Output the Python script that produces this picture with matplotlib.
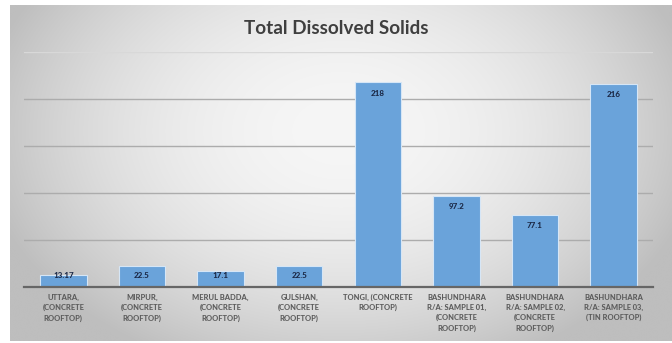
import numpy as np
import matplotlib
matplotlib.use("Agg")
import matplotlib.pyplot as plt

# Total dissolved solids per sampling site
categories = [
    "UTTARA,\n(CONCRETE\nROOFTOP)",
    "MIRPUR,\n(CONCRETE\nROOFTOP)",
    "MERUL BADDA,\n(CONCRETE\nROOFTOP)",
    "GULSHAN,\n(CONCRETE\nROOFTOP)",
    "TONGI, (CONCRETE\nROOFTOP)",
    "BASHUNDHARA\nR/A: SAMPLE 01,\n(CONCRETE\nROOFTOP)",
    "BASHUNDHARA\nR/A: SAMPLE 02,\n(CONCRETE\nROOFTOP)",
    "BASHUNDHARA\nR/A: SAMPLE 03,\n(TIN ROOFTOP)",
]
tds_values = [13.17, 22.5, 17.1, 22.5, 218, 97.2, 77.1, 216]
value_labels = ["13.17", "22.5", "17.1", "22.5", "218", "97.2", "77.1", "216"]
y_ticks = [0, 50, 100, 150, 200, 250]

W, H = 672, 343
fig = plt.figure(figsize=(W / 100, H / 100), dpi=100)
fig.patch.set_facecolor("white")

# soft grey radial backdrop for the chart panel
bg = fig.add_axes([0, 0, 1, 1], zorder=-5)
bg.set_xlim(0, W)
bg.set_ylim(H, 0)
bg.axis("off")
px0, px1, py0, py1 = 10, 672, 5, 341
xs = np.linspace(-1, 1, 400)
ys = np.linspace(-1, 1, 220)
gx, gy = np.meshgrid(xs, ys)
gy_shift = gy + 0.25
val = 246 - 46 * (gx ** 2) - 24 * (gy_shift ** 2)
val = np.clip(val, 190, 250) / 255.0
img = np.dstack([val, val, val])
bg.imshow(img, extent=(px0, px1, py1, py0), aspect="auto", interpolation="bicubic")

ax = fig.add_axes([24 / W, 56 / H, (653 - 24) / W, (291 - 56) / H])
ax.patch.set_alpha(0)
x = np.arange(len(categories))
bars = ax.bar(x, tds_values, width=0.59, color="#6aa3da",
              edgecolor="#d6e6f6", linewidth=0.8, zorder=3)

ax.set_xlim(-0.5, len(categories) - 0.5)
ax.set_ylim(0, 250)
ax.set_yticks(y_ticks)
ax.set_yticklabels([])
ax.tick_params(axis="both", length=0)
for t in y_ticks[1:]:
    ax.axhline(t, color="#d8d8d8" if t == 250 else "#acacac", lw=1.0, zorder=1)
for s in ["top", "right", "left"]:
    ax.spines[s].set_visible(False)
ax.spines["bottom"].set_color("#666666")
ax.spines["bottom"].set_linewidth(1.6)
ax.spines["bottom"].set_zorder(4)

ax.set_xticks(x)
ax.set_xticklabels(categories, fontsize=5.4, fontweight="black", color="#5c5c5c",
                   family=["Lato", "DejaVu Sans"], linespacing=1.5, va="top")
ax.tick_params(axis="x", pad=5)

# value labels sit just inside each bar top, kept above the baseline
units_per_px = 250 / (291 - 56)
for xi, v, lab in zip(x, tds_values, value_labels):
    ly = max(v - 11 * units_per_px, 12 * units_per_px)
    ax.text(xi, ly, lab, ha="center", va="center", fontsize=5.8,
            fontweight="black", color="#1c2a48", family=["Lato", "DejaVu Sans"],
            zorder=5)

fig.text(0.5, 1 - 28 / H, "Total Dissolved Solids", ha="center", va="center",
         fontsize=13.6, fontweight="bold", color="#3f3f3f",
         family=["Lato", "DejaVu Sans"])

fig.savefig("out.png", dpi=100)
